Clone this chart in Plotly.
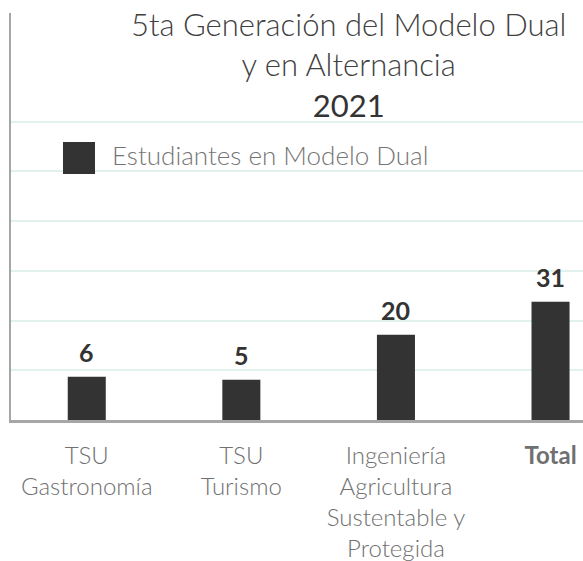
import plotly.graph_objects as go

# ---- data ----
CATEGORIES = ["TSU Gastronomía", "TSU Turismo",
              "Ingeniería Agricultura Sustentable y Protegida", "Total"]
TICK_LABELS = ["TSU<br>Gastronomía", "TSU<br>Turismo",
               "Ingeniería<br>Agricultura<br>Sustentable y<br>Protegida", "<b>Total</b>"]
VALUES = [6, 5, 20, 31]
SERIES_NAME = "Estudiantes en Modelo Dual"
TITLE_LINES = ["5ta Generación del Modelo Dual", "y en Alternancia", "2021"]

# ---- axis setup (bars are drawn from the axis floor, as in the original) ----
Y_MIN = -8.44
Y_MAX = 127.4
GRID_STEP = 16.6
GRID_VALS = [Y_MIN + i * GRID_STEP for i in range(0, 7)]

W, H = 583, 561
ML, MR, MT, MB = 11, 0, 13, 141
PW = W - ML - MR
PH = H - MT - MB

def px_x(p):
    return (p - ML) / PW

def px_y(p):
    return (H - MB - p) / PH

FONT = "Lato"
BAR_COLOR = "#333333"

fig = go.Figure()
fig.add_trace(go.Bar(
    x=CATEGORIES,
    y=[v - Y_MIN for v in VALUES],
    base=Y_MIN,
    name=SERIES_NAME,
    marker=dict(color=BAR_COLOR, line=dict(width=0)),
    showlegend=False,
    hovertext=[str(v) for v in VALUES],
    hoverinfo="x+text",
))

# data labels above bars
for c, v in zip(CATEGORIES, VALUES):
    fig.add_annotation(x=c, y=v, xref="x", yref="y", text=str(v),
                       showarrow=False, yanchor="bottom", yshift=8,
                       font=dict(family=FONT, size=25, color="#333333", weight="bold"))

# manual legend (large square marker like the original)
fig.add_shape(type="rect", xref="paper", yref="paper",
              x0=px_x(63), x1=px_x(95), y0=px_y(174), y1=px_y(142),
              fillcolor=BAR_COLOR, line=dict(width=0), layer="above")
fig.add_annotation(xref="paper", yref="paper", x=px_x(110), y=px_y(155),
                   xanchor="left", yanchor="middle", showarrow=False,
                   text=SERIES_NAME,
                   font=dict(family=FONT, size=26, color="#757575", weight=300))

# title (three centred lines)
title_text = (TITLE_LINES[0] + "<br>" + TITLE_LINES[1] + "<br>"
              + "<span style='font-weight:400;color:#333333'>" + TITLE_LINES[2] + "</span>")
fig.add_annotation(xref="paper", yref="paper", x=px_x(348), y=px_y(3),
                   xanchor="center", yanchor="top", showarrow=False,
                   align="center", text=title_text,
                   font=dict(family=FONT, size=31, color="#404040", weight=300))

fig.update_layout(
    width=W, height=H,
    margin=dict(l=ML, r=MR, t=MT, b=MB, pad=0, autoexpand=False),
    paper_bgcolor="white", plot_bgcolor="white",
    bargap=0.754,
    showlegend=False,
    xaxis=dict(
        type="category",
        tickvals=CATEGORIES, ticktext=TICK_LABELS,
        range=[-0.49, 3.21],
        automargin=False,
        showline=True, linecolor="#a6a6a6", linewidth=2.5,
        ticks="", showgrid=False, zeroline=False,
        tickfont=dict(family=FONT, size=24, color="#707070", weight=300),
        ticklabelstandoff=12,
    ),
    yaxis=dict(
        range=[Y_MIN, Y_MAX],
        tickvals=GRID_VALS,
        automargin=False,
        showticklabels=False,
        showgrid=True, gridcolor="#e1f1ee", gridwidth=1.5,
        zeroline=False,
        showline=True, linecolor="#a6a6a6", linewidth=2,
        ticks="",
    ),
)

fig.write_html(
    "out.html",
    config={"displayModeBar": False},
    post_script="document.body.style.margin='0';document.body.style.overflow='hidden';",
)
